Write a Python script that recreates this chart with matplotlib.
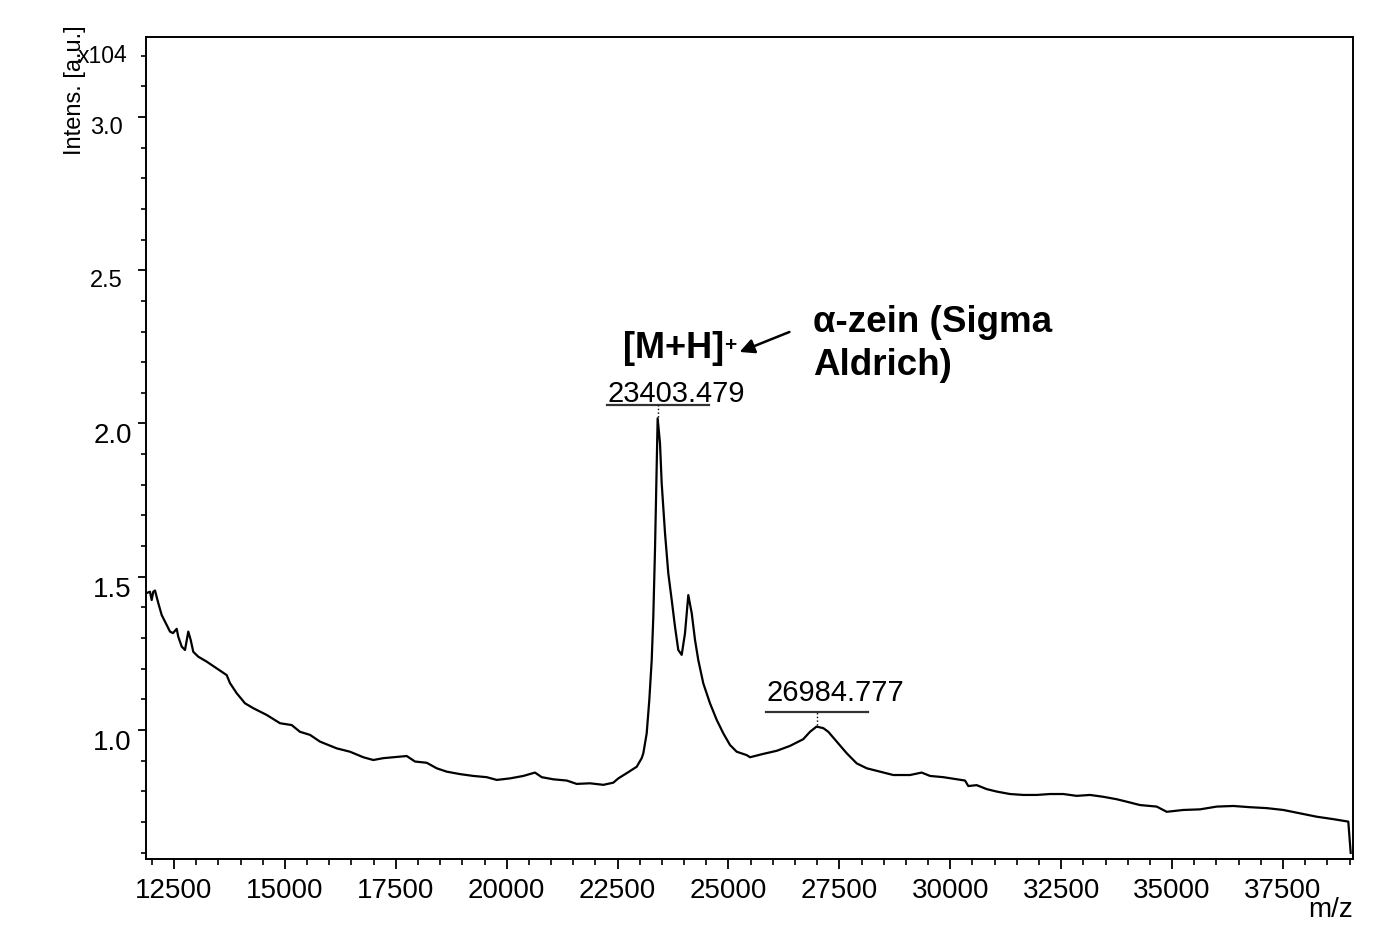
import matplotlib
matplotlib.use("Agg")
import matplotlib.pyplot as plt
from matplotlib.ticker import MultipleLocator

plt.rcParams["font.family"] = ["Liberation Sans", "DejaVu Sans"]

# spectrum trace: m/z and intensity (x 1e4 a.u.)
mz = [11869, 11959, 11997, 12033, 12072, 12146, 12223, 12335, 12410, 12477,
      12561, 12597, 12674, 12748, 12822, 12876, 12935, 13048, 13237, 13463,
      13688, 13762, 13913, 14101, 14288, 14590, 14890, 15153, 15340, 15566,
      15791, 16168, 16468, 16767, 16993, 17218, 17444, 17746, 17933, 18197,
      18422, 18648, 18947, 19247, 19549, 19775, 20074, 20374, 20638, 20789,
      21051, 21353, 21578, 21878, 22178, 22403, 22516, 22705, 22931, 23043,
      23080, 23156, 23215, 23269, 23305, 23343, 23366, 23390, 23403, 23456,
      23494, 23569, 23643, 23720, 23794, 23868, 23945, 24019, 24094, 24171,
      24245, 24319, 24432, 24583, 24734, 24883, 25034, 25185, 25410, 25485,
      25785, 26087, 26386, 26686, 26837, 26985, 27137, 27250, 27439, 27665,
      27890, 28116, 28415, 28715, 29092, 29355, 29543, 29842, 30144, 30332,
      30406, 30595, 30821, 31046, 31346, 31646, 31948, 32248, 32548, 32849,
      33149, 33449, 33751, 33977, 34277, 34653, 34879, 35253, 35629, 36006,
      36380, 36756, 37133, 37507, 37883, 38259, 38634, 38972, 39026]
intens = [1.446, 1.451, 1.424, 1.451, 1.455, 1.414, 1.375, 1.343, 1.321, 1.316,
          1.330, 1.304, 1.272, 1.261, 1.321, 1.294, 1.255, 1.239, 1.223, 1.201,
          1.179, 1.153, 1.120, 1.087, 1.071, 1.049, 1.022, 1.016, 0.994, 0.984,
          0.962, 0.940, 0.929, 0.911, 0.902, 0.908, 0.911, 0.915, 0.897, 0.893,
          0.875, 0.864, 0.856, 0.850, 0.846, 0.837, 0.842, 0.850, 0.861, 0.846,
          0.839, 0.835, 0.824, 0.826, 0.821, 0.828, 0.842, 0.859, 0.880, 0.908,
          0.924, 0.989, 1.098, 1.228, 1.370, 1.587, 1.750, 1.914, 2.017, 1.935,
          1.805, 1.642, 1.511, 1.424, 1.337, 1.261, 1.245, 1.315, 1.440, 1.381,
          1.294, 1.228, 1.152, 1.087, 1.033, 0.989, 0.951, 0.929, 0.918, 0.911,
          0.922, 0.932, 0.948, 0.970, 0.994, 1.011, 1.006, 0.994, 0.962, 0.924,
          0.891, 0.875, 0.864, 0.853, 0.853, 0.861, 0.850, 0.846, 0.839, 0.835,
          0.817, 0.820, 0.807, 0.799, 0.791, 0.788, 0.788, 0.791, 0.791, 0.785,
          0.788, 0.782, 0.774, 0.766, 0.755, 0.750, 0.733, 0.739, 0.741, 0.750,
          0.752, 0.748, 0.745, 0.739, 0.728, 0.717, 0.709, 0.701, 0.599]

# labelled peaks
peak_mz = [23403.479, 26984.777]
peak_int = [2.017, 1.011]
peak_labels = ["23403.479", "26984.777"]

x_ticks = [12500, 15000, 17500, 20000, 22500, 25000, 27500, 30000, 32500, 35000, 37500]
y_ticks = [1.0, 1.5, 2.0, 2.5, 3.0]
y_tick_labels = ["1.0", "1.5", "2.0", "2.5", "3.0"]

W, H = 1384, 946
fig = plt.figure(figsize=(W / 100, H / 100), dpi=100)
ax = fig.add_axes([146 / W, 87 / H, (1353 - 146) / W, (859 - 37) / H])

ax.plot(mz, intens, color="black", lw=1.6)
ax.set_xlim(11869, 39078)
ax.set_ylim(0.579, 3.261)

# axes styling
for sp in ax.spines.values():
    sp.set_linewidth(1.4)
ax.set_xticks(x_ticks)
ax.set_xticklabels([str(t) for t in x_ticks])
ax.xaxis.set_minor_locator(MultipleLocator(500))
ax.yaxis.set_minor_locator(MultipleLocator(0.1))
ax.set_yticks(y_ticks)
ax.set_yticklabels(y_tick_labels)
ax.tick_params(axis="x", which="major", direction="out", length=7, width=1.3,
               labelsize=20, pad=6.5)
ax.tick_params(axis="x", which="minor", direction="out", length=4.3, width=1.2)
ax.tick_params(axis="y", which="major", direction="out", length=5.8, width=1.3,
               labelsize=20, pad=4.5)
ax.tick_params(axis="y", which="minor", direction="out", length=3.6, width=1.2)

# upper two y labels are drawn smaller and further from the axis
ticks = ax.yaxis.get_major_ticks()
for i, t in enumerate(ticks):
    if y_ticks[i] >= 2.5:
        t.set_pad(11)
        t.label1.set_fontsize(17)
for lab in ax.get_yticklabels():
    lab.set_va("top")

# peak labels with underline and dotted marker
text_dy = [0.053, 0.082]
bar_dy = [0.042, 0.049]
for m, h, s, tdy, bdy in zip(peak_mz, peak_int, peak_labels, text_dy, bar_dy):
    ax.plot([m - 1150, m + 1150], [h + bdy, h + bdy], color="#333333", lw=1.6)
    ax.plot([m, m], [h + 0.004, h + bdy], color="black", lw=1.0, ls=":")
    ax.text(m - 1120, h + tdy, s, fontsize=21, ha="left", va="baseline")

# ion annotation
ax.text(22622, 2.214, "[M+H]", fontsize=26, fontweight="bold", ha="left", va="baseline")
ax.text(25030, 2.256, "+", fontsize=15, fontweight="bold", ha="center", va="center")
ax.annotate("", xy=(25192, 2.230), xytext=(26432, 2.302),
            arrowprops=dict(arrowstyle="-|>", lw=1.8, color="black", mutation_scale=22))
ax.text(26905, 2.300, "α-zein (Sigma", fontsize=26.5, fontweight="bold", ha="left", va="baseline")
ax.text(26905, 2.158, "Aldrich)", fontsize=26.5, fontweight="bold", ha="left", va="baseline")

# axis titles placed like the instrument software does
fig.text(75 / W, 1 - 90 / H, "Intens. [a.u.]", rotation=90, fontsize=17,
         ha="center", va="center")
fig.text(78 / W, 1 - 62.7 / H, "x10", fontsize=16.5, ha="left", va="baseline")
fig.text(114 / W, 1 - 61.5 / H, "4", fontsize=16.5, ha="left", va="baseline")
fig.text(1353 / W, 1 - 917 / H, "m/z", fontsize=20, ha="right", va="baseline")

fig.savefig("out.png", dpi=100)
plt.close(fig)
